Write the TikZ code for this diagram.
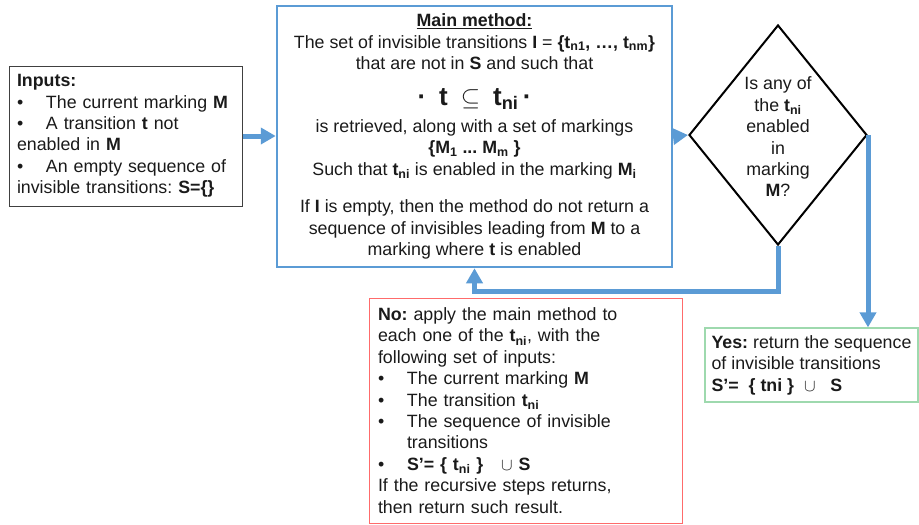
\documentclass[tikz,border=0pt]{standalone}
\usepackage{fontspec}
\setmainfont{Liberation Sans}
\usetikzlibrary{positioning, arrows.meta, shapes.geometric}
\usepackage{xcolor}
\definecolor{FlowBlue}{HTML}{5B9BD5}
\definecolor{NoRed}{HTML}{FF6B6B}
\definecolor{YesGreen}{HTML}{9ED9AE}
\definecolor{InkGray}{HTML}{404040}
\definecolor{TextBlack}{HTML}{1A1A1A}
\newcommand{\trsub}[1]{\textbf{t\textsubscript{#1}}}
\newcommand{\bul}{\makebox[29pt][l]{\textbullet}}
\frenchspacing

\begin{document}
\begin{tikzpicture}[x=1pt, y=-1pt,
  every node/.style={text=TextBlack, font=\fontsize{17.8}{21.4}\selectfont},
  inbox/.style={rectangle, draw=InkGray, line width=1pt, minimum width=233pt, minimum height=140pt,
              text width=217pt, inner xsep=8pt, align=left},
  mainbox/.style={rectangle, draw=FlowBlue, line width=2.5pt, minimum width=395pt, minimum height=261pt,
              align=center},
  decision/.style={diamond, draw=black, line width=2pt, minimum width=178pt, minimum height=220pt,
              inner sep=0pt},
  nobox/.style={rectangle, draw=NoRed, line width=1pt, minimum width=313pt, minimum height=225pt,
              text width=295pt, inner xsep=9pt, align=left},
  yesbox/.style={rectangle, draw=YesGreen, line width=1.2pt, minimum width=213pt, minimum height=74pt,
              align=left},
  flow/.style={-{Triangle[length=15pt, width=16pt]}, line width=5pt, FlowBlue}
]
  \useasboundingbox (0,0) rectangle (919,525);

  \node[inbox] (inputs) at (125.5,136) {\textbf{Inputs:}\\
    \bul The current marking \textbf{M}\\
    \bul A transition \textbf{t} not\\
    enabled in \textbf{M}\\
    \bul An empty sequence of\\
    invisible transitions: \textbf{S=\{\}}};

  \node[mainbox] (main) at (474.5,136.5) {\underline{\textbf{Main method:}}\\
    The set of invisible transitions \textbf{I} = \textbf{\{}\trsub{n1}\textbf{, …, }\trsub{nm}\textbf{\}}\\
    that are not in \textbf{S} and such that\\[14pt]
    {\fontsize{26}{21.4}\selectfont\textbf{·}\enspace\textbf{t}\enspace$\subseteq$\enspace\trsub{ni}\,\textbf{·}}\\[6pt]
    is retrieved, along with a set of markings\\
    \textbf{\{M\textsubscript{1} ... M\textsubscript{m} \}}\\
    Such that \trsub{ni} is enabled in the marking \textbf{M\textsubscript{i}}\\[16pt]
    If \textbf{I} is empty, then the method do not return a\\
    sequence of invisibles leading from \textbf{M} to a\\
    marking where \textbf{t} is enabled};

  \node[decision, label={[align=center, yshift=-2pt]center:Is any of\\the \trsub{ni}\\enabled\\in\\marking\\\textbf{M}?}]
    (check) at (778,135) {};

  \node[nobox] (no) at (525.5,410.5) {\textbf{No:} apply the main method to\\
    each one of the \trsub{ni}, with the\\
    following set of inputs:\\
    \bul The current marking \textbf{M}\\
    \bul The transition \trsub{ni}\\
    \bul The sequence of invisible\\
    \hspace*{29pt}transitions\\
    \bul \textbf{S’= \{} \trsub{ni} \textbf{\}}\quad$\cup$ \textbf{S}\\
    If the recursive steps returns,\\
    then return such result.};

  \node[yesbox] (yes) at (811.5,365) {\textbf{Yes:} return the sequence\\
    of invisible transitions\\
    \textbf{S’=\ \ \{ tni \}}\ \ $\cup$\ \ \ \textbf{S}};

  \draw[flow] (inputs.east) -- (inputs.east -| main.west);
  \draw[flow] (main.east) -- (check.west);
  \draw[flow] (check.south) -- ++(0,45) -| (main.south);
  \draw[flow] (check.east) -- (check.east |- yes.north);
\end{tikzpicture}
\end{document}
